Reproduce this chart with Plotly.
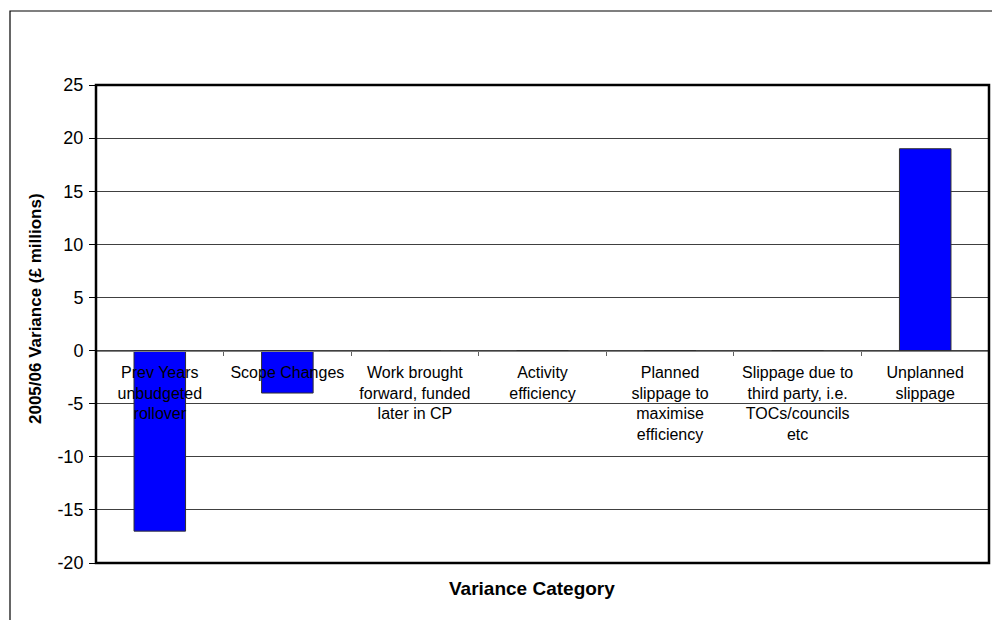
import plotly.graph_objects as go

categories = [
    "Prev Years unbudgeted rollover",
    "Scope Changes",
    "Work brought forward, funded later in CP",
    "Activity efficiency",
    "Planned slippage to maximise efficiency",
    "Slippage due to third party, i.e. TOCs/councils etc",
    "Unplanned slippage",
]
tick_labels = [
    "Prev Years<br>unbudgeted<br>rollover",
    "Scope Changes",
    "Work brought<br>forward, funded<br>later in CP",
    "Activity<br>efficiency",
    "Planned<br>slippage to<br>maximise<br>efficiency",
    "Slippage due to<br>third party, i.e.<br>TOCs/councils<br>etc",
    "Unplanned<br>slippage",
]
values = [-17, -4, 0, 0, 0, 0, 19]
y_ticks = [-20, -15, -10, -5, 0, 5, 10, 15, 20, 25]
y_tick_text = ["-20", "-15", "-10", "-5", "0", "5", "10", "15", "20", "25"]

W, H = 992, 620
L, T, R, B = 96, 85, 989, 563
FONT = "Liberation Sans, Arial, sans-serif"

def px_x(p):
    return (p - L) / (R - L)

def px_y(p):
    return (B - p) / (B - T)

ymin, ymax = -20, 25

fig = go.Figure()
fig.add_trace(go.Bar(
    x=categories, y=values,
    marker=dict(color="#0000FF", line=dict(color="#303030", width=1)),
    showlegend=False,
))

fig.update_layout(
    width=W, height=H,
    margin=dict(l=L, r=W - R, t=T, b=H - B),
    paper_bgcolor="white", plot_bgcolor="white",
    bargap=0.596,
    font=dict(family=FONT, color="black"),
    xaxis=dict(
        type="category",
        categoryorder="array", categoryarray=categories,
        tickmode="array", tickvals=categories, ticktext=tick_labels,
        range=[-0.5, len(categories) - 0.5],
        anchor="free", position=(0 - ymin) / (ymax - ymin),
        showline=True, linecolor="#808080", linewidth=1,
        ticks="outside", tickson="boundaries", ticklen=4,
        tickcolor="#606060", tickwidth=1,
        tickfont=dict(size=16, family=FONT, color="black"),
        ticklabelstandoff=7,
        showgrid=False, zeroline=False,
    ),
    yaxis=dict(
        range=[ymin, ymax],
        tickmode="array", tickvals=y_ticks, ticktext=y_tick_text,
        ticks="outside", ticklen=6, tickcolor="black", tickwidth=1,
        tickfont=dict(size=18, family=FONT, color="black"),
        showgrid=True, gridcolor="#404040", gridwidth=1,
        zeroline=False, showline=False,
        ticklabelstandoff=2,
    ),
    shapes=[
        dict(type="rect", xref="paper", yref="paper",
             x0=0, x1=1, y0=0, y1=1,
             line=dict(color="black", width=2.5), layer="above"),
        dict(type="rect", xref="paper", yref="paper",
             x0=px_x(10), x1=px_x(1100), y0=px_y(700), y1=px_y(11),
             line=dict(color="black", width=1.2), layer="above"),
    ],
    annotations=[
        dict(text="<b>Variance Category</b>", xref="paper", yref="paper",
             x=px_x(532), y=px_y(588), showarrow=False,
             xanchor="center", yanchor="middle",
             font=dict(size=19, family=FONT, color="black")),
        dict(text="<b>2005/06 Variance (£ millions)</b>", xref="paper", yref="paper",
             x=px_x(35), y=px_y(309), showarrow=False, textangle=-90,
             xanchor="center", yanchor="middle",
             font=dict(size=17, family=FONT, color="black")),
    ],
)

fig.write_html("out.html", config={"displayModeBar": False})

with open("out.html", "r", encoding="utf-8") as f:
    html = f.read()
html = html.replace("<body>", '<body style="margin:0;padding:0;overflow:hidden">', 1)
with open("out.html", "w", encoding="utf-8") as f:
    f.write(html)
